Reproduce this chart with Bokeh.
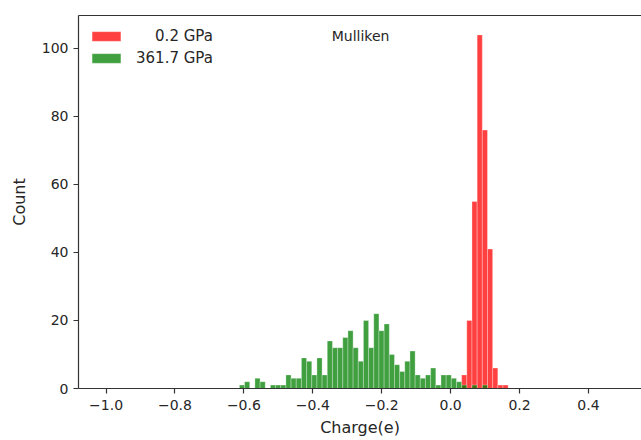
import numpy as np
from bokeh.plotting import figure
from bokeh.models import (Range1d, LinearAxis, FixedTicker, CustomJSTickFormatter,
                          Legend, LegendItem, Label, ColumnDataSource)
from bokeh.embed import file_html
from bokeh.resources import INLINE

# ---- data (histogram counts) ----
bin_width = 0.015
green_first_left = -0.613
green_counts = [1, 2, 0, 3, 2, 0, 1, 1, 1, 4, 3, 3, 9, 8, 4, 9, 4, 14, 12, 12,
                15, 17, 12, 8, 20, 12, 22, 17, 19, 10, 7, 5, 8, 11, 4, 3, 4, 6,
                1, 4, 4, 3, 2, 1, 0, 1, 0, 1]
red_first_left = 0.032
red_counts = [4, 20, 55, 104, 76, 41, 6, 1, 1]

series_labels = ["\u00a0\u00a0\u00a0\u00a00.2 GPa", "361.7 GPa"]
title_text = "Mulliken"
x_label = "Charge(e)"
y_label = "Count"
x_ticks = [-1.0, -0.8, -0.6, -0.4, -0.2, 0.0, 0.2, 0.4]
y_ticks = [0, 20, 40, 60, 80, 100]

FONT = "DejaVu Sans"


def hist_source(first_left, counts):
    counts = np.asarray(counts, dtype=float)
    centers = first_left + bin_width * (np.arange(len(counts)) + 0.5)
    keep = counts > 0
    return ColumnDataSource(dict(x=centers[keep], top=counts[keep]))


p = figure(width=641, height=440, output_backend="svg", toolbar_location=None,
           x_range=Range1d(-1.08, 0.554), y_range=Range1d(0, 109.7),
           min_border_left=78, min_border_right=0, min_border_top=15,
           min_border_bottom=52, x_axis_location=None, y_axis_location=None)
p.grid.visible = False
p.outline_line_color = None
p.background_fill_color = "white"
p.border_fill_color = "white"

red_src = hist_source(red_first_left, red_counts)
green_src = hist_source(green_first_left, green_counts)

r_red = p.vbar(x="x", top="top", bottom=0, width=bin_width, source=red_src,
               fill_color="red", fill_alpha=0.75, line_color="white",
               line_width=0.5, line_alpha=0.6)
r_green = p.vbar(x="x", top="top", bottom=0, width=bin_width, source=green_src,
                 fill_color="green", fill_alpha=0.75, line_color="white",
                 line_width=0.5, line_alpha=0.6)

AX_COLOR = "#333333"


def style_axis(ax):
    ax.axis_line_color = AX_COLOR
    ax.axis_line_width = 1.2
    ax.major_tick_line_color = AX_COLOR
    ax.major_tick_line_width = 1.2
    ax.major_tick_in = 0
    ax.major_tick_out = 5
    ax.minor_tick_line_color = None
    ax.major_label_text_font = FONT
    ax.major_label_text_font_size = "14px"
    ax.major_label_text_color = "#262626"
    ax.axis_label_text_font = FONT
    ax.axis_label_text_font_size = "16px"
    ax.axis_label_text_font_style = "normal"
    ax.axis_label_text_color = "#262626"


xaxis = LinearAxis(ticker=FixedTicker(ticks=x_ticks),
                   formatter=CustomJSTickFormatter(
                       code="return tick.toFixed(1).replace('-', '\u2212');"),
                   axis_label=x_label)
style_axis(xaxis)
xaxis.major_label_standoff = 6
xaxis.axis_label_standoff = 5
p.add_layout(xaxis, "below")

yaxis = LinearAxis(ticker=FixedTicker(ticks=y_ticks), axis_label=y_label)
style_axis(yaxis)
yaxis.major_label_standoff = 5
yaxis.axis_label_standoff = 10
p.add_layout(yaxis, "left")

top_axis = LinearAxis(ticker=FixedTicker(ticks=[]))
top_axis.axis_line_color = AX_COLOR
top_axis.axis_line_width = 1.2
top_axis.major_tick_line_color = None
top_axis.minor_tick_line_color = None
top_axis.major_tick_out = 0
top_axis.major_tick_in = 0
top_axis.major_label_text_font_size = "0px"
top_axis.major_label_standoff = 0
p.add_layout(top_axis, "above")

legend = Legend(items=[LegendItem(label=series_labels[0], renderers=[r_red]),
                       LegendItem(label=series_labels[1], renderers=[r_green])],
                location=(10, 321))
legend.border_line_color = None
legend.background_fill_alpha = 0
legend.margin = 0
legend.padding = 8
legend.glyph_width = 36
legend.glyph_height = 12
legend.label_height = 12
legend.spacing = 4
legend.label_standoff = 12
legend.label_text_font = FONT
legend.label_text_font_size = "15px"
legend.label_text_color = "#262626"
p.add_layout(legend)

p.add_layout(Label(x=-0.345, y=103.7, text=title_text, text_baseline="middle",
                   text_align="left", text_font=FONT, text_font_size="14px",
                   text_color="#262626"))

open("out.html", "w").write(file_html(p, INLINE))
